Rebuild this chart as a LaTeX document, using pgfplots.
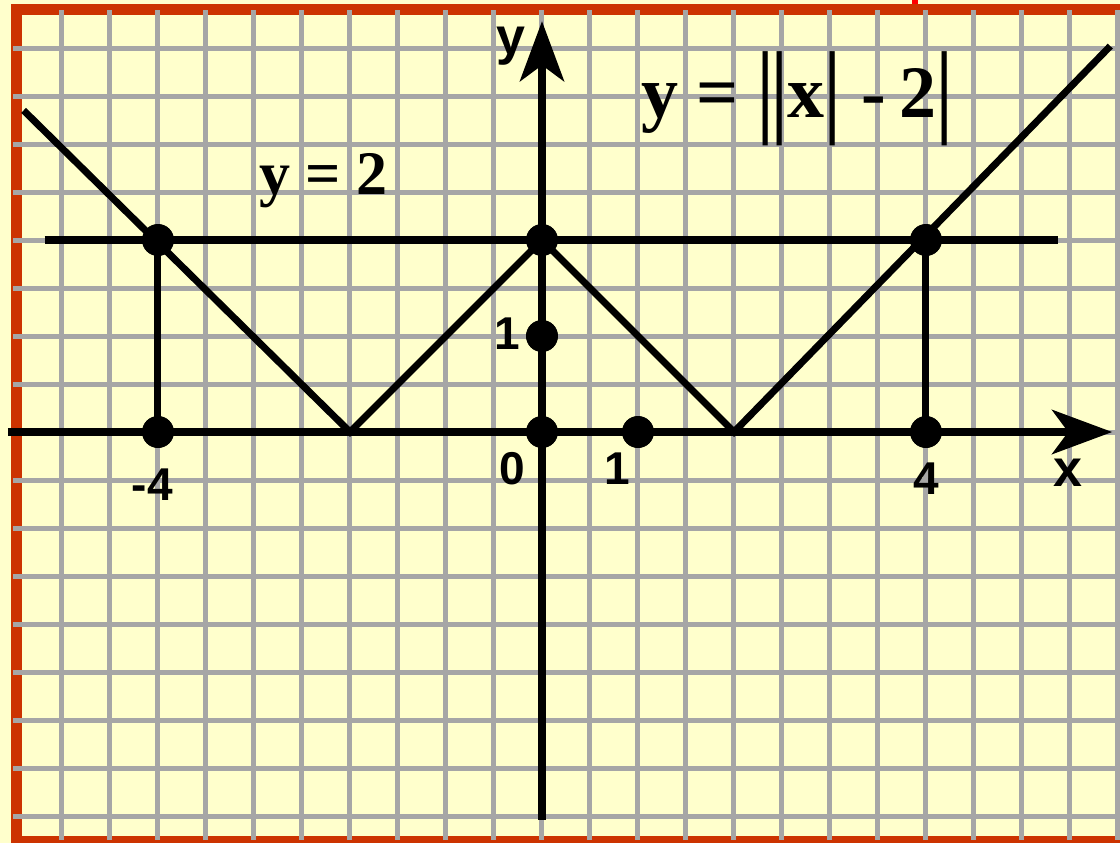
\documentclass[border=0pt]{standalone}
\usepackage{fontspec}
\setmainfont{Liberation Serif}
\setsansfont{Liberation Sans}
\usepackage{pgfplots}
\pgfplotsset{compat=1.18}
\usetikzlibrary{arrows.meta}

\definecolor{paper}{HTML}{FFFFCC}
\definecolor{gridgray}{HTML}{A6A6A6}
\definecolor{frame}{HTML}{CC3300}

% tall bars for |...|
\newcommand{\tallbar}{\raisebox{-0.08em}{\scalebox{1}[1.4]{|}}}

\begin{document}
\begin{tikzpicture}
% paper and red frame (1 px = 0.5pt, image 1120x843)
\fill[paper] (0,0) rectangle (560pt,421.5pt);
\fill[frame] (5.5pt,0) rectangle (11pt,419.5pt);
\fill[frame] (5.5pt,414pt) rectangle (560pt,419.5pt);
\fill[frame] (5.5pt,0) rectangle (560pt,3.5pt);
\fill[red] (456pt,419.5pt) rectangle (459pt,421.5pt);

\begin{axis}[
    at={(6.5pt,1.5pt)}, anchor=south west,
    scale only axis, width=553.5pt, height=415pt,
    xmin=-5.5104, xmax=6.0208, ymin=-4.25, ymax=4.3958,
    axis line style={draw=none},
    xtick={-5,-4.5,-4,-3.5,-3,-2.5,-2,-1.5,-1,-0.5,0,0.5,1,1.5,2,2.5,3,3.5,4,4.5,5,5.5,6},
    ytick={-4,-3.5,-3,-2.5,-2,-1.5,-1,-0.5,0,0.5,1,1.5,2,2.5,3,3.5,4},
    xticklabels={}, yticklabels={},
    major tick length=0pt,
    grid=major, major grid style={gridgray, line width=2.5pt},
    clip=false,
]
% axes
\addplot[black, line width=4.2pt, -{Stealth[length=30pt, width=22pt, inset=8pt]}]
    coordinates {(-5.5625,0) (5.94,0)};
\addplot[black, line width=4.2pt, -{Stealth[length=30pt, width=22pt, inset=8pt]}]
    coordinates {(0,-4.04) (0,4.28)};

% y = ||x| - 2|
\addplot[black, line width=3.5pt, line join=miter]
    coordinates {(-5.4,3.35) (-2,0) (0,2) (2,0) (5.92,4.02)};
% y = 2
\addplot[black, line width=3.8pt]
    coordinates {(-5.18,2) (5.375,2)};
% drop lines at x = -4 and x = 4
\addplot[black, line width=3.5pt] coordinates {(-4,0) (-4,2)};
\addplot[black, line width=3.5pt] coordinates {(4,0) (4,2)};

% points
\addplot[only marks, mark=*, mark size=7.8pt, black]
    coordinates {(-4,2) (0,2) (4,2) (0,1) (-4,0) (0,0) (1,0) (4,0)};

% labels
\begin{scope}[every node/.style={inner sep=0pt, anchor=base, font=\sffamily\bfseries\fontsize{23}{27}\selectfont}]
\node at (axis cs:-4.06,-0.71) {-4};
\node at (axis cs:-0.31,-0.55) {0};
\node at (axis cs:0.78,-0.55) {1};
\node at (axis cs:-0.36,0.86) {1};
\node at (axis cs:4.0,-0.65) {4};
\end{scope}
\node[inner sep=0pt, anchor=base, font=\sffamily\bfseries\fontsize{26}{30}\selectfont] at (axis cs:5.48,-0.57) {x};
\node[inner sep=0pt, anchor=base, font=\sffamily\bfseries\fontsize{26}{30}\selectfont] at (axis cs:-0.32,3.93) {y};

\node[inner sep=0pt, anchor=base west, font=\bfseries\fontsize{37}{41}\selectfont]
    at (axis cs:1.03,3.28) {y = \tallbar\kern-0.03em\tallbar x\tallbar\kern0.28em-\kern0.17em2\tallbar};
\node[inner sep=0pt, anchor=base west, font=\bfseries\fontsize{31}{35}\selectfont]
    at (axis cs:-2.95,2.47) {y = 2};
\end{axis}
\pgfresetboundingbox
\path (0,0) rectangle (560pt,421.5pt);
\end{tikzpicture}
\end{document}
